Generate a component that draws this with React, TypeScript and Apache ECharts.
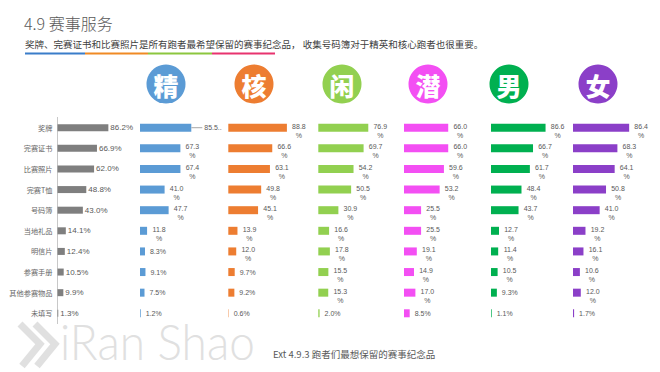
import React, { useEffect, useRef } from 'react';
import * as echarts from 'echarts';

const categories = ['奖牌', '完赛证书', '比赛照片', '完赛T恤', '号码簿', '当地礼品', '明信片', '参赛手册', '其他参赛物品', '未填写'];
const overall = [86.2, 66.9, 62.0, 48.8, 43.0, 14.1, 12.4, 10.5, 9.9, 1.3];
const elite = [85.5, 67.3, 67.4, 41.0, 47.7, 11.8, 8.3, 9.1, 7.5, 1.2];
const core = [88.8, 66.6, 63.1, 49.8, 45.1, 13.9, 12.0, 9.7, 9.2, 0.6];
const casual = [76.9, 69.7, 54.2, 50.5, 30.9, 16.6, 17.8, 15.5, 15.3, 2.0];
const potential = [66.0, 66.0, 59.6, 53.2, 25.5, 25.5, 19.1, 14.9, 17.0, 8.5];
const male = [86.6, 66.7, 61.7, 48.4, 43.7, 12.7, 11.4, 10.5, 9.3, 1.1];
const female = [86.4, 68.3, 64.1, 50.8, 41.0, 19.2, 16.1, 10.6, 12.0, 1.7];
const groupNames = ['精', '核', '闲', '潜', '男', '女'];

const titleText = '4.9 赛事服务';
const subtitleText = '奖牌、完赛证书和比赛照片是所有跑者最希望保留的赛事纪念品， 收集号码簿对于精英和核心跑者也很重要。';
const footerText = 'Ext 4.9.3 跑者们最想保留的赛事纪念品';
const logoText = 'iRan Shao';

const panels = [
  { data: overall, color: '#7f7f7f', left: 57.5, width: 59, wrap: false, iconX: 0 },
  { data: elite, color: '#5b9bd5', left: 140, width: 60, wrap: true, iconX: 166 },
  { data: core, color: '#ed7d31', left: 228.3, width: 66, wrap: true, iconX: 254 },
  { data: casual, color: '#92d050', left: 318.3, width: 65, wrap: true, iconX: 342 },
  { data: potential, color: '#f34ff3', left: 404, width: 67, wrap: true, iconX: 428 },
  { data: male, color: '#00b050', left: 491, width: 63, wrap: true, iconX: 509 },
  { data: female, color: '#8b3fc8', left: 573, width: 65, wrap: true, iconX: 598 },
];

const GRID_TOP = 117.4;
const GRID_H = 206.2;
const NUM_FONT = 'Liberation Sans, Arial, sans-serif';
const CJK_FONT = 'Noto Sans CJK SC, sans-serif';

function buildData(vals: number[], wrap: boolean, panelIdx: number) {
  return vals.map((v, i) => {
    const s = v.toFixed(1);
    if (panelIdx === 1 && i === 0) {
      return {
        value: v,
        label: {
          formatter: '{l|}{t| ' + s + '..}',
          align: 'left',
          distance: 0,
          rich: {
            l: { width: 11, height: 1, backgroundColor: '#a6a6a6' },
            t: { fontSize: 7, color: '#595959', fontFamily: NUM_FONT },
          },
        },
      };
    }
    if (wrap && s.length >= 4) {
      return {
        value: v,
        label: { formatter: s + '\n%', align: 'center', distance: 12, offset: [0, 3], lineHeight: 9 },
      };
    }
    return { value: v, label: { formatter: s + '%', align: 'left', distance: wrap ? 5 : 2 } };
  });
}

export default function App() {
  const ref = useRef<HTMLDivElement>(null);
  useEffect(() => {
    if (!ref.current) return;
    const chart = echarts.init(ref.current, undefined, { renderer: 'svg' });
    const grids: any[] = [];
    const xAxes: any[] = [];
    const yAxes: any[] = [];
    const series: any[] = [];
    panels.forEach((p, i) => {
      grids.push({ left: p.left, top: GRID_TOP, width: p.width, height: GRID_H, containLabel: false });
      xAxes.push({ type: 'value', gridIndex: i, min: 0, max: 100, show: false });
      yAxes.push({
        type: 'category',
        gridIndex: i,
        data: categories,
        inverse: true,
        axisTick: { show: false },
        axisLine: { show: i === 0, lineStyle: { color: '#c8c8c8', width: 1 } },
        axisLabel: { show: i === 0, fontSize: 7.2, color: '#666666', margin: 5, fontFamily: CJK_FONT },
        splitLine: { show: false },
      });
      series.push({
        type: 'bar',
        xAxisIndex: i,
        yAxisIndex: i,
        barWidth: i === 0 ? 7 : 8,
        itemStyle: { color: p.color },
        label: {
          show: true,
          position: 'right',
          fontSize: i === 0 ? 8 : 7,
          color: '#595959',
          fontFamily: NUM_FONT,
        },
        data: buildData(p.data, p.wrap, i),
        z: 3,
      });
    });

    const graphics: any[] = [];
    graphics.push({
      type: 'text', x: 24, y: 23,
      style: { text: titleText, fill: '#595959', fontSize: 16, fontWeight: 300, fontFamily: CJK_FONT, textAlign: 'left', textVerticalAlign: 'middle', align: 'left', verticalAlign: 'middle' },
    });
    graphics.push({
      type: 'text', x: 25, y: 43.5,
      style: { text: subtitleText, fill: '#404040', fontSize: 9.5, fontFamily: CJK_FONT, textAlign: 'left', textVerticalAlign: 'middle', align: 'left', verticalAlign: 'middle' },
    });
    const lineSegs = [
      { x0: 25, x1: 85, c: '#3a7dc9' },
      { x0: 85, x1: 148, c: '#f08a24' },
      { x0: 148, x1: 212, c: '#8cc63f' },
      { x0: 212, x1: 275, c: '#e8336f' },
    ];
    lineSegs.forEach((s) => {
      graphics.push({ type: 'rect', shape: { x: s.x0, y: 52.5, width: s.x1 - s.x0, height: 2 }, style: { fill: s.c } });
    });
    groupNames.forEach((g, k) => {
      const p = panels[k + 1];
      graphics.push({ type: 'circle', shape: { cx: p.iconX, cy: 84, r: 19.5 }, style: { fill: p.color } });
      graphics.push({
        type: 'text', x: p.iconX, y: 85,
        style: { text: g, fill: '#ffffff', fontSize: 25, fontWeight: 900, fontFamily: CJK_FONT, textAlign: 'center', textVerticalAlign: 'middle', align: 'center', verticalAlign: 'middle' },
      });
    });
    // watermark logo
    graphics.push({
      type: 'polyline', shape: { points: [[20, 324], [40, 344], [22, 366]] },
      style: { stroke: '#e0e0e0', lineWidth: 7, fill: 'none' }, z: -1,
    });
    graphics.push({
      type: 'polyline', shape: { points: [[35, 324], [55, 344], [37, 366]] },
      style: { stroke: '#e0e0e0', lineWidth: 7, fill: 'none' }, z: -1,
    });
    graphics.push({
      type: 'text', x: 60, y: 341, scaleX: 0.92,
      style: { text: logoText, fill: '#e0e0e0', fontSize: 50, fontWeight: 300, fontFamily: 'Lato, Roboto, sans-serif', textAlign: 'left', textVerticalAlign: 'middle', align: 'left', verticalAlign: 'middle' },
      z: -1,
    });
    graphics.push({
      type: 'text', x: 273, y: 354,
      style: { text: footerText, fill: '#595959', fontSize: 9.5, fontFamily: CJK_FONT, textAlign: 'left', textVerticalAlign: 'middle', align: 'left', verticalAlign: 'middle' },
    });

    chart.setOption({
      animation: false,
      backgroundColor: '#ffffff',
      grid: grids,
      xAxis: xAxes,
      yAxis: yAxes,
      series,
      graphic: { elements: graphics },
    });
    return () => chart.dispose();
  }, []);
  return <div ref={ref} style={{ position: 'fixed', left: 0, top: 0, width: 660, height: 372 }} />;
}
